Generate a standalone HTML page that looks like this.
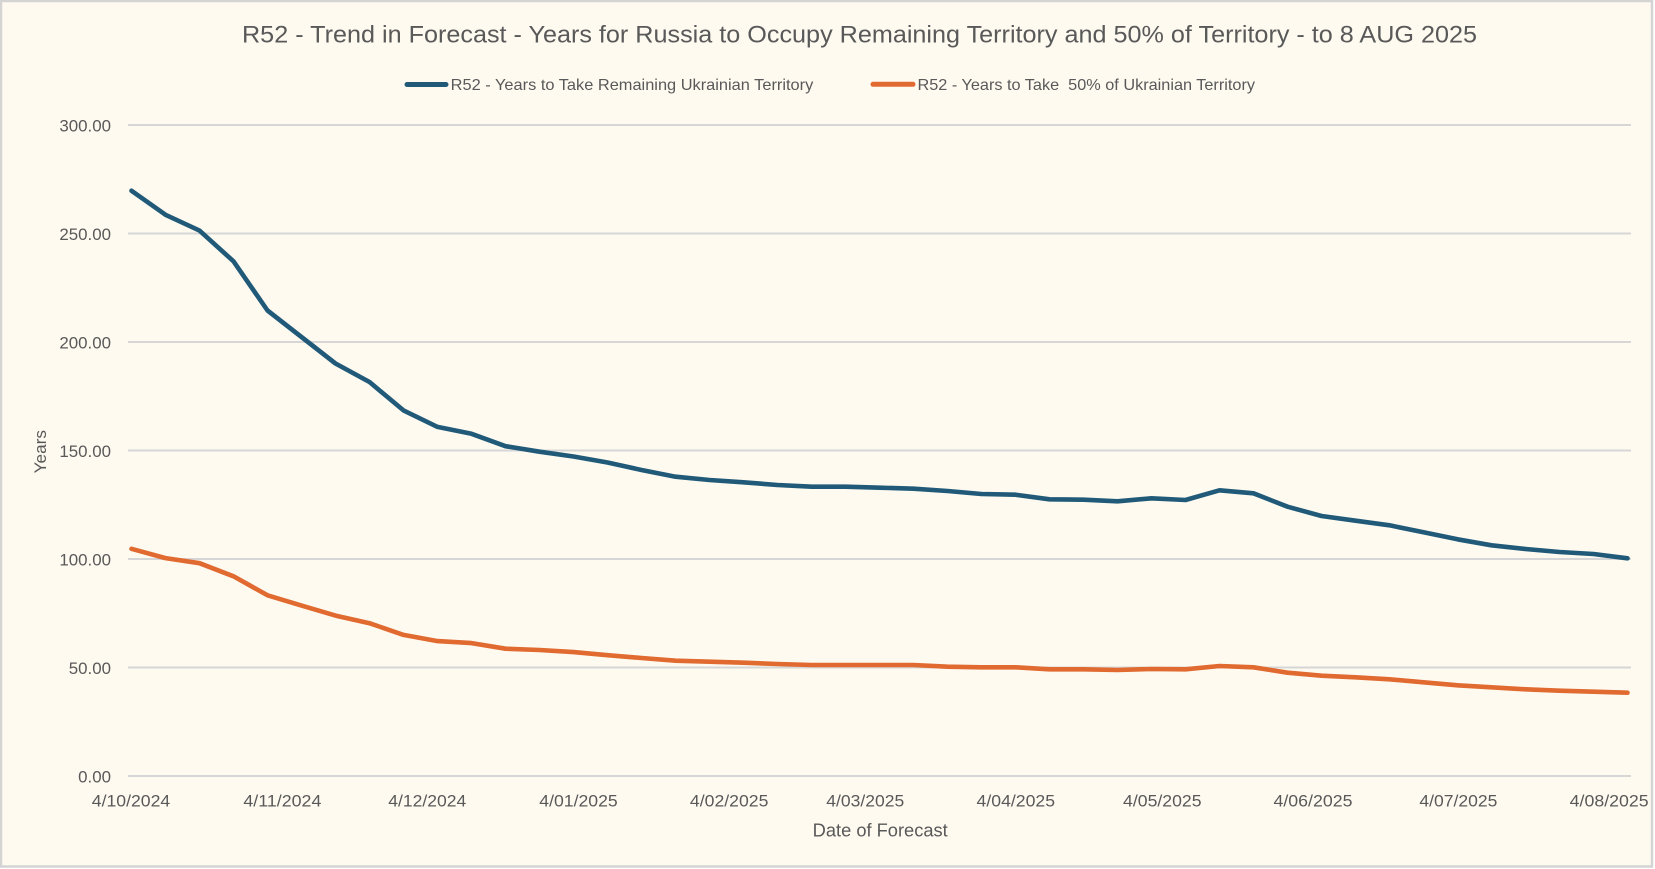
<!DOCTYPE html>
<html>
<head>
<meta charset="utf-8">
<style>
  html, body { margin: 0; padding: 0; background: #ffffff; }
  body { width: 1655px; height: 869px; overflow: hidden; }
  svg { display: block; }
  text { font-family: "Liberation Sans", "DejaVu Sans", sans-serif; fill: #595959; }
</style>
</head>
<body>
<svg width="1655" height="869" viewBox="0 0 1655 869" xmlns="http://www.w3.org/2000/svg">
  <!-- chart area -->
  <rect x="1" y="1" width="1651" height="865.5" fill="#FEFAF0" stroke="#D4D4D4" stroke-width="2.5"/>

  <!-- title -->
  <text x="242" y="42.7" font-size="24" textLength="1235" lengthAdjust="spacingAndGlyphs">R52 - Trend in Forecast - Years for Russia to Occupy Remaining Territory and 50% of Territory - to 8 AUG 2025</text>

  <!-- legend -->
  <line x1="407" y1="84.5" x2="446" y2="84.5" stroke="#215A79" stroke-width="5" stroke-linecap="round"/>
  <text x="450.7" y="90" font-size="16" textLength="362.6" lengthAdjust="spacingAndGlyphs">R52 - Years to Take Remaining Ukrainian Territory</text>
  <line x1="873" y1="84.3" x2="913" y2="84.3" stroke="#E06A30" stroke-width="5" stroke-linecap="round"/>
  <text x="917.5" y="90" font-size="16" textLength="337.5" lengthAdjust="spacingAndGlyphs" style="white-space:pre" xml:space="preserve">R52 - Years to Take  50% of Ukrainian Territory</text>

  <!-- gridlines -->
  <g stroke="#D6D6D6" stroke-width="2">
    <line x1="128" y1="125" x2="1631" y2="125"/>
    <line x1="128" y1="233.5" x2="1631" y2="233.5"/>
    <line x1="128" y1="342" x2="1631" y2="342"/>
    <line x1="128" y1="450.5" x2="1631" y2="450.5"/>
    <line x1="128" y1="559" x2="1631" y2="559"/>
    <line x1="128" y1="667.5" x2="1631" y2="667.5"/>
    <line x1="128" y1="776" x2="1631" y2="776"/>
  </g>

  <!-- y labels -->
  <g font-size="16.9" text-anchor="end">
    <text x="111" y="131.3">300.00</text>
    <text x="111" y="239.8">250.00</text>
    <text x="111" y="348.3">200.00</text>
    <text x="111" y="456.8">150.00</text>
    <text x="111" y="565.3">100.00</text>
    <text x="111" y="673.8">50.00</text>
    <text x="111" y="782.3">0.00</text>
  </g>

  <!-- y axis title -->
  <text transform="translate(46,451.7) rotate(-90)" font-size="17" text-anchor="middle" textLength="43.3" lengthAdjust="spacingAndGlyphs">Years</text>

  <!-- x labels -->
  <g font-size="16.5" text-anchor="middle">
    <text x="131" y="806.3" textLength="78.5" lengthAdjust="spacingAndGlyphs">4/10/2024</text>
    <text x="282.4" y="806.3" textLength="78" lengthAdjust="spacingAndGlyphs">4/11/2024</text>
    <text x="427.3" y="806.3" textLength="78" lengthAdjust="spacingAndGlyphs">4/12/2024</text>
    <text x="578.5" y="806.3" textLength="78.5" lengthAdjust="spacingAndGlyphs">4/01/2025</text>
    <text x="729.2" y="806.3" textLength="78.5" lengthAdjust="spacingAndGlyphs">4/02/2025</text>
    <text x="865.3" y="806.3" textLength="78" lengthAdjust="spacingAndGlyphs">4/03/2025</text>
    <text x="1015.8" y="806.3" textLength="78.5" lengthAdjust="spacingAndGlyphs">4/04/2025</text>
    <text x="1162.3" y="806.3" textLength="78.5" lengthAdjust="spacingAndGlyphs">4/05/2025</text>
    <text x="1313" y="806.3" textLength="79" lengthAdjust="spacingAndGlyphs">4/06/2025</text>
    <text x="1458.4" y="806.3" textLength="78" lengthAdjust="spacingAndGlyphs">4/07/2025</text>
    <text x="1609.2" y="806.3" textLength="79" lengthAdjust="spacingAndGlyphs">4/08/2025</text>
  </g>

  <!-- x axis title -->
  <text x="812.7" y="836.7" font-size="18" textLength="135" lengthAdjust="spacingAndGlyphs">Date of Forecast</text>

  <!-- series: remaining territory -->
  <polyline fill="none" stroke="#215A79" stroke-width="4.6" stroke-linejoin="round" stroke-linecap="round"
    points="131.5,190.7 165.5,214.8 199.5,230.6 233.5,261.3 267.5,310.5 301.5,337 335.5,363.5 369.5,382 403.5,410.4 437.5,426.9 471.5,433.8 505.5,446.2 539.5,451.7 573.5,456.5 607.5,462.5 641.5,470 675.5,476.7 709.5,480 743.5,482.3 777.5,485 811.5,486.7 845.5,486.7 879.5,487.7 913.5,488.7 947.5,491 981.5,494 1015.5,494.7 1049.5,499.3 1083.5,499.7 1117.5,501.3 1151.5,498.3 1185.5,500 1219.5,490.3 1253.5,493.3 1287.5,506.7 1321.5,516 1355.5,520.7 1389.5,525.3 1423.5,532.3 1457.5,539.3 1491.5,545.3 1525.5,549 1559.5,552 1593.5,554 1627.5,558.3"/>

  <!-- series: 50% of territory -->
  <polyline fill="none" stroke="#E06A30" stroke-width="4.6" stroke-linejoin="round" stroke-linecap="round"
    points="131.5,548.8 165.5,558.1 199.5,563.2 233.5,576.3 267.5,595.3 301.5,605.6 335.5,615.6 369.5,623.2 403.5,634.9 437.5,641.1 471.5,643.1 505.5,648.7 539.5,650 573.5,652.1 607.5,655.2 641.5,658 675.5,660.7 709.5,661.7 743.5,662.7 777.5,664 811.5,665 845.5,665 879.5,665 913.5,665 947.5,666.7 981.5,667.3 1015.5,667.3 1049.5,669.3 1083.5,669.3 1117.5,670 1151.5,669 1185.5,669.3 1219.5,666 1253.5,667.3 1287.5,672.7 1321.5,675.7 1355.5,677.3 1389.5,679.3 1423.5,682.3 1457.5,685.3 1491.5,687.3 1525.5,689.3 1559.5,690.7 1593.5,691.7 1627.5,692.7"/>
</svg>
</body>
</html>
